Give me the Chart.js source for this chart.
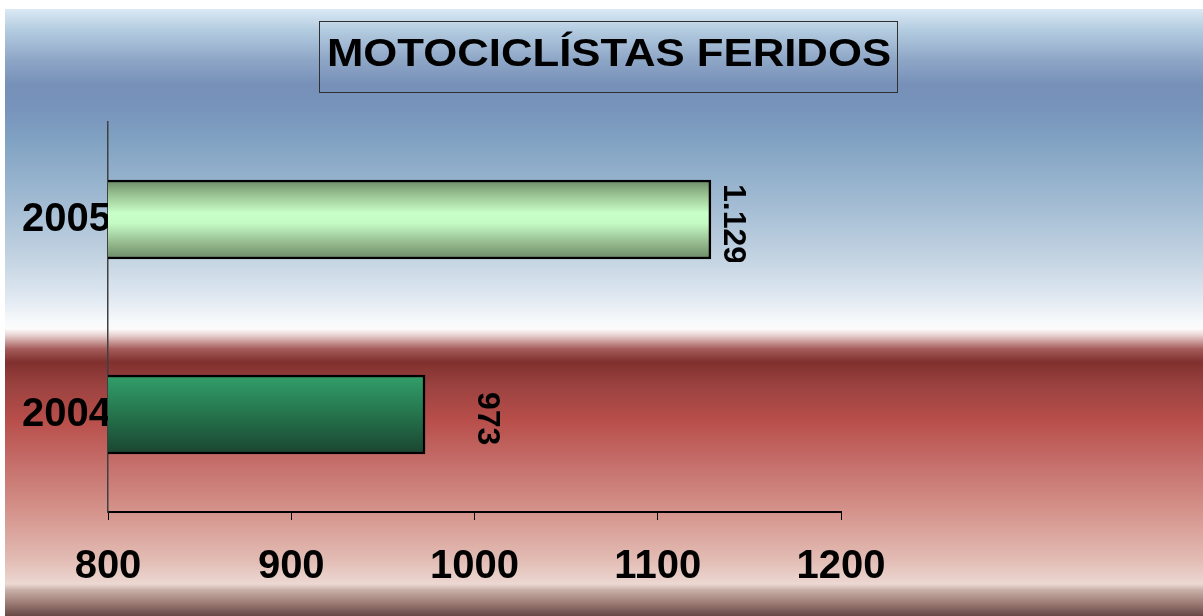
<!DOCTYPE html>
<html>
<head>
<meta charset="utf-8">
<script src="https://cdn.jsdelivr.net/npm/chart.js@4"></script>
<style>
  html, body { margin: 0; padding: 0; background: #fff; }
  #wrap { width: 1203px; height: 616px; }
</style>
</head>
<body>
<div id="wrap"><canvas id="chart" width="1203" height="616"></canvas></div>
<script>
const titleText = "MOTOCICLÍSTAS FERIDOS";
const years = ["2005", "2004"];
const feridos = [1129, 973];
const valueLabels = ["1.129", "973"];
const xTicks = [800, 900, 1000, 1100, 1200];

const FONT = "'Liberation Sans', Arial, sans-serif";

// gradientes das barras (claro para 2005, escuro para 2004)
const barStops = [
  [[0, "#6a8866"], [0.18, "#98c090"], [0.42, "#c8ffc8"], [0.55, "#c4fac4"], [0.8, "#94b88c"], [1, "#6a8866"]],
  [[0, "#32a06a"], [0.45, "#26784f"], [1, "#1a4430"]]
];

function barFill(context) {
  const chart = context.chart;
  if (!chart.chartArea || !chart.scales.y) return "#8c8";
  const i = context.dataIndex;
  const yc = chart.scales.y.getPixelForValue(i);
  const g = chart.ctx.createLinearGradient(0, yc - 40, 0, yc + 40);
  barStops[i].forEach(s => g.addColorStop(s[0], s[1]));
  return g;
}

const backgroundPlugin = {
  id: "fundo",
  beforeDraw(chart) {
    const c = chart.ctx;
    const w = chart.width, h = chart.height;
    c.save();
    c.fillStyle = "#fff";
    c.fillRect(0, 0, w, h);
    const top = 9;
    const stops = [
      [9, "#dae9f4"], [30, "#b4cce0"], [60, "#8ea6c6"], [85, "#7690b8"], [110, "#7894bc"],
      [140, "#80a2c2"], [200, "#a0bad2"], [260, "#c4d4e2"], [300, "#e2eaf2"], [322, "#f8fafc"],
      [329, "#fdfbfb"], [336, "#e6cccc"], [349, "#a45c5a"], [362, "#80302e"], [385, "#9a4240"],
      [420, "#b84e4a"], [460, "#c46c68"], [510, "#d4928a"], [560, "#e2bcb4"], [584, "#ecd8d2"],
      [590, "#c8b0a8"], [602, "#a08078"], [616, "#684844"]
    ];
    const g = c.createLinearGradient(0, top, 0, h);
    stops.forEach(s => g.addColorStop((s[0] - top) / (h - top), s[1]));
    c.fillStyle = g;
    c.fillRect(5, top, w - 5, h - top);

    // caixa do título
    c.strokeStyle = "#303030";
    c.lineWidth = 1;
    c.strokeRect(319.5, 21.5, 578, 71);
    c.fillStyle = "#000";
    c.font = "bold 38px " + FONT;
    c.textAlign = "center";
    c.textBaseline = "middle";
    c.translate(609, 56);
    c.scale(1.15, 1);
    c.fillText(titleText, 0, 0);
    c.restore();
  }
};

const valueLabelPlugin = {
  id: "rotulos",
  afterDatasetsDraw(chart, args, opts) {
    const c = chart.ctx;
    const meta = chart.getDatasetMeta(0);
    c.save();
    c.fillStyle = "#000";
    c.font = "bold 32px " + FONT;
    c.textAlign = "left";
    c.textBaseline = "middle";
    meta.data.forEach((bar, i) => {
      const half = bar.height / 2;
      const off = opts.offsets[i];
      c.save();
      c.beginPath();
      c.rect(bar.x, bar.y - half, 200, bar.height + 3);
      c.clip();
      c.translate(bar.x + off[0], bar.y - half + off[1]);
      c.rotate(Math.PI / 2);
      c.fillText(valueLabels[i], 0, 0);
      c.restore();
    });
    c.restore();
  }
};

new Chart(document.getElementById("chart"), {
  type: "bar",
  data: {
    labels: years,
    datasets: [{
      data: feridos,
      backgroundColor: barFill,
      borderColor: "#000",
      borderWidth: 2.5,
      borderSkipped: false,
      barThickness: 79
    }]
  },
  options: {
    indexAxis: "y",
    responsive: false,
    animation: false,
    layout: { padding: { top: 122, right: 362, left: 0, bottom: 0 } },
    plugins: {
      legend: { display: false },
      title: { display: false },
      tooltip: { enabled: false },
      rotulos: { offsets: [[22, 4], [62, 17]] }
    },
    scales: {
      x: {
        min: 800,
        max: 1200,
        afterBuildTicks: (scale) => { scale.ticks = xTicks.map(v => ({ value: v })); },
        afterFit: (scale) => { scale.height = 104; },
        grid: { drawOnChartArea: false, drawTicks: true, tickLength: 8, color: "#000", lineWidth: 1 },
        border: { display: true, color: "#000", width: 2 },
        ticks: {
          color: "#000",
          font: { family: FONT, size: 40, weight: "bold" },
          padding: 23,
          maxRotation: 0,
          callback: (v) => String(v)
        }
      },
      y: {
        afterFit: (scale) => { scale.width = 108; },
        grid: { display: false, drawTicks: false, tickLength: 0 },
        border: { display: true, color: "#404040", width: 1.5 },
        ticks: {
          color: "#000",
          font: { family: FONT, size: 40, weight: "bold" },
          padding: -3
        }
      }
    }
  },
  plugins: [backgroundPlugin, valueLabelPlugin]
});
</script>
</body>
</html>
